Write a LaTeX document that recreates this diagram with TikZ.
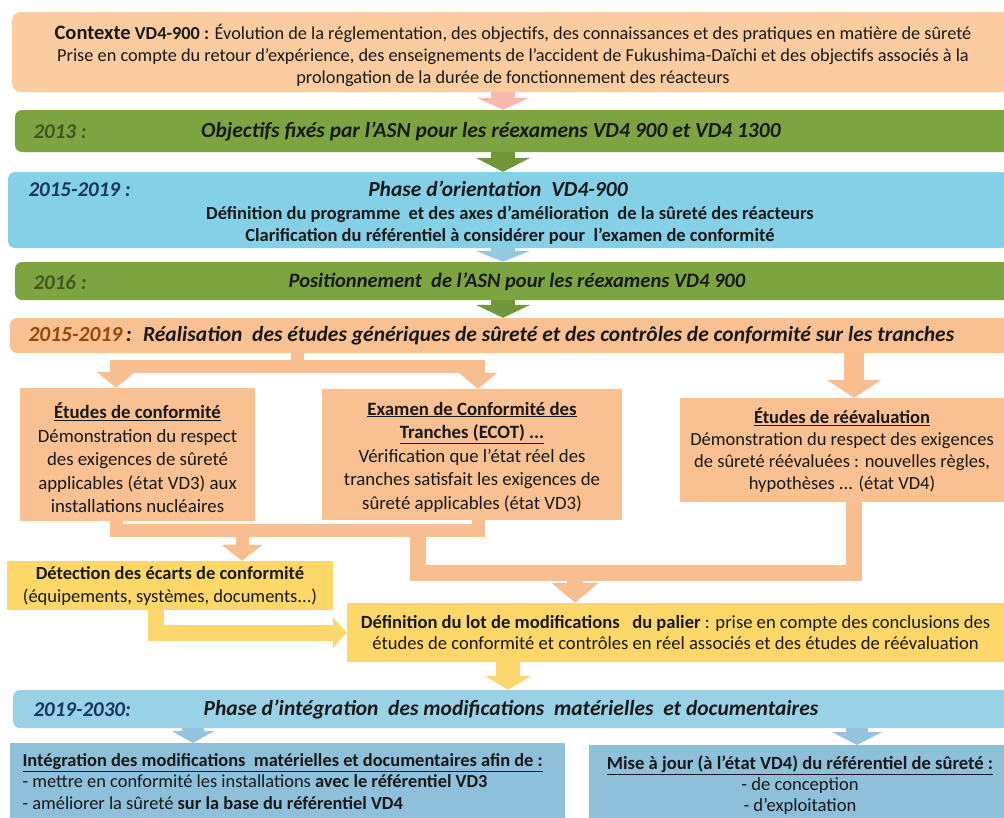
\documentclass[tikz,border=0pt]{standalone}
\usepackage{fontspec}
\setmainfont{Carlito}
\usetikzlibrary{arrows.meta}

\definecolor{ctxfill}{RGB}{251,204,160}
\definecolor{peach}{RGB}{249,192,145}
\definecolor{peachline}{RGB}{248,190,144}
\definecolor{pinkline}{RGB}{247,185,170}
\definecolor{greenbar}{RGB}{124,165,66}
\definecolor{greenline}{RGB}{112,150,56}
\definecolor{cyanbox}{RGB}{132,208,230}
\definecolor{cyanline}{RGB}{150,200,225}
\definecolor{yellowbox}{RGB}{253,216,104}
\definecolor{yellowline}{RGB}{252,214,110}
\definecolor{palebar}{RGB}{153,210,230}
\definecolor{steelbox}{RGB}{142,192,218}
\definecolor{steelline}{RGB}{150,195,222}
\definecolor{olivetxt}{RGB}{68,86,32}
\definecolor{navytxt}{RGB}{23,54,93}
\definecolor{browntxt}{RGB}{152,72,7}

\newcommand{\setfs}[2]{\fontsize{#1}{#2}\selectfont}
\tikzset{every node/.style={font=\setfs{18.3}{22}, text=black!90}}

\begin{document}
\begin{tikzpicture}[x=1pt, y=-1pt,
  bar/.style={rounded corners=7pt, inner sep=0pt, minimum width=1000},
  box/.style={inner sep=0pt, align=center},
  bartext/.style={font=\setfs{21.5}{24}\bfseries\itshape},
  year/.style={font=\setfs{21}{24}\bfseries\itshape, anchor=west},
  boxtext/.style={font=\setfs{18.8}{23.5}},
  band/.style={line width=13pt, line join=miter},
  arrowhead/.style 2 args={-{Triangle[width=#1, length=#2]}}
  ]
\useasboundingbox (0,0) rectangle (1004,817);

% columns used by the connectors
\coordinate (axis) at (503,0);
\coordinate (colL) at (116,0);
\coordinate (colM) at (478,0);
\coordinate (colR) at (854,0);
\coordinate (colD) at (242,0);
\coordinate (colU) at (418,0);
\coordinate (colA) at (575,0);
\coordinate (colDD) at (156,0);
\coordinate (colY) at (508,0);
\coordinate (colB1) at (193,0);
\coordinate (colB2) at (857,0);

% context
\node[bar, fill=ctxfill, minimum height=80, rounded corners=9pt] (ctx) at (512,52) {};
\node[box] (ctxtxt) at (513,55.5)
  {{\setfs{20.5}{22}\bfseries Contexte} \textbf{VD4-900 :} Évolution de la réglementation, des objectifs, des connaissances et des pratiques en matière de sûreté\\
   Prise en compte du retour d’expérience, des enseignements de l’accident de Fukushima-Daïchi et des objectifs associés à la\\
   prolongation de la durée de fonctionnement des réacteurs};

% 2013
\node[bar, fill=greenbar, minimum height=42] (obj) at (515,131) {};
\node[year, text=olivetxt] (y2013) at (30,132) {2013 :};
\node[bartext] (objtxt) at (491,132) {Objectifs fixés par l’ASN pour les réexamens VD4 900 et VD4 1300};

% orientation
\node[bar, fill=cyanbox, minimum height=76] (orient) at (508,210) {};
\node[year, text=navytxt] (y1519a) at (25,190) {2015-2019 :};
\node[bartext] (orienttitle) at (498,189) {Phase d’orientation~~VD4-900};
\node[box, font=\setfs{18.5}{22}\bfseries] (orienttxt) at (510,225)
  {Définition du programme~ et des axes d’amélioration~ de la sûreté des réacteurs\\
   Clarification du référentiel à considérer pour~ l’examen de conformité};

% 2016
\node[bar, fill=greenbar, minimum height=38] (posit) at (515,281) {};
\node[year, text=olivetxt] (y2016) at (30,282) {2016 :};
\node[bartext, font=\setfs{20.5}{24}\bfseries\itshape] (posittxt) at (517,282) {Positionnement~ de l’ASN pour les réexamens VD4 900};

% realisation
\node[bar, fill=peach, minimum height=35] (real) at (510,335.5) {};
\node[bartext, anchor=west] (realtxt) at (25,336)
  {\textcolor{browntxt}{2015-2019}\,:~ Réalisation~ des études génériques de sûreté et des contrôles de conformité sur les tranches};

% studies
\node[box, boxtext, fill=peach, minimum width=235, minimum height=133] (conf) at (137.5,454.5) {};
\node[box, boxtext] (conftxt) at (137.5,458)
  {\underline{\textbf{Études de conformité}}\\ Démonstration du respect\\ des exigences de sûreté\\
   applicables (état VD3) aux\\ installations nucléaires};
\node[box, boxtext, fill=peach, minimum width=300, minimum height=131] (ecot) at (472,454.5) {};
\node[box, boxtext] (ecottxt) at (472,457)
  {\underline{\textbf{Examen de Conformité des}}\\ \underline{\textbf{Tranches (ECOT) ...}}\\
   Vérification que l’état réel des\\ tranches satisfait les exigences de\\ sûreté applicables (état VD3)};
\node[box, font=\setfs{18.5}{22}, fill=peach, minimum width=324, minimum height=104] (reev) at (842,450)
  {\underline{\textbf{Études de réévaluation}}\\ Démonstration du respect des exigences\\
   de sûreté réévaluées : nouvelles règles,\\ hypothèses ... (état VD4)};

% detection and lot
\node[box, font=\setfs{18.5}{23}, fill=yellowbox, minimum width=326, minimum height=49] (detect) at (170,585.5)
  {\textbf{Détection des écarts de conformité}\\ (équipements, systèmes, documents...)};
\node[box, font=\setfs{18.6}{21.5}, fill=yellowbox, minimum width=657, minimum height=59] (defin) at (675.5,632.5)
  {\textbf{Définition du lot de modifications~~ du palier} : prise en compte des conclusions des\\
   études de conformité et contrôles en réel associés et des études de réévaluation};

% integration
\node[bar, fill=palebar, minimum height=38] (integr) at (513,709) {};
\node[year, text=navytxt] (y1930) at (30,710) {2019-2030:};
\node[bartext] (integrtxt) at (511,710) {Phase d’intégration~ des modifications~ matérielles~ et documentaires};

\node[box, fill=steelbox, minimum width=555, minimum height=80, anchor=north west] (integ) at (10,743) {};
\node[align=left, anchor=north west, font=\setfs{18.4}{21.5}] (integtxt) at (19,750)
  {\underline{\textbf{Intégration des modifications~ matérielles et documentaires afin de :}}\\
   - mettre en conformité les installations \textbf{avec le référentiel VD3}\\
   - améliorer la sûreté \textbf{sur la base du référentiel VD4}};
\node[box, fill=steelbox, minimum width=415, minimum height=80, anchor=north west] (maj) at (589,745) {};
\node[align=center, anchor=north, font=\setfs{18.6}{21}] (majtxt) at (800,752)
  {\underline{\textbf{Mise à jour (à l’état VD4) du référentiel de sûreté :}}\\
   - de conception\\ - d’exploitation};

% main axis arrows
\draw[band, line width=24pt, pinkline, arrowhead={52pt}{12pt}] (ctx.south -| axis) -- (obj.north -| axis);
\draw[band, line width=24pt, greenline, arrowhead={54pt}{14pt}] (obj.south -| axis) -- (orient.north -| axis);
\draw[band, line width=24pt, cyanline, arrowhead={54pt}{11pt}] (orient.south -| axis) -- (posit.north -| axis);
\draw[band, line width=24pt, greenline, arrowhead={54pt}{13pt}] (posit.south -| axis) -- (real.north -| axis);

% split towards the studies
\coordinate (split) at (297,366);
\draw[band, peachline] (real.south -| split) -- (split);
\draw[band, peachline, arrowhead={38pt}{16pt}] (split) -| (conf.north -| colL);
\draw[band, peachline, arrowhead={38pt}{16pt}] (split) -| (ecot.north -| colM);
\draw[band, peachline, line width=20pt, arrowhead={54pt}{18pt}] (real.south -| colR) -- (reev.north -| colR);

% gathering the results
\coordinate (bandB) at (300,530);
\draw[band, peachline] (conf.south -| colL) |- (bandB) -| (ecot.south -| colM);
\draw[band, peachline, arrowhead={40pt}{16pt}] (bandB -| colD) -- (detect.north -| colD);
\coordinate (bandU) at (640,573);
\draw[band, peachline, line width=16pt] (bandB -| colU) |- (bandU) -| (reev.south -| colR);
\draw[band, peachline, line width=16pt, arrowhead={46pt}{20pt}] (bandU -| colA) -- (defin.north -| colA);
\draw[band, yellowline, line width=16pt, arrowhead={30pt}{14pt}] (detect.south -| colDD) |- (defin.west);

% towards the integration phase
\draw[band, line width=24pt, yellowline, arrowhead={46pt}{14pt}] (defin.south -| colY) -- (integr.north -| colY);
\draw[band, line width=22pt, steelline, arrowhead={42pt}{12pt}] (integr.south -| colB1) -- (integ.north -| colB1);
\draw[band, line width=22pt, steelline, arrowhead={50pt}{13pt}] (integr.south -| colB2) -- (maj.north -| colB2);
\end{tikzpicture}
\end{document}
